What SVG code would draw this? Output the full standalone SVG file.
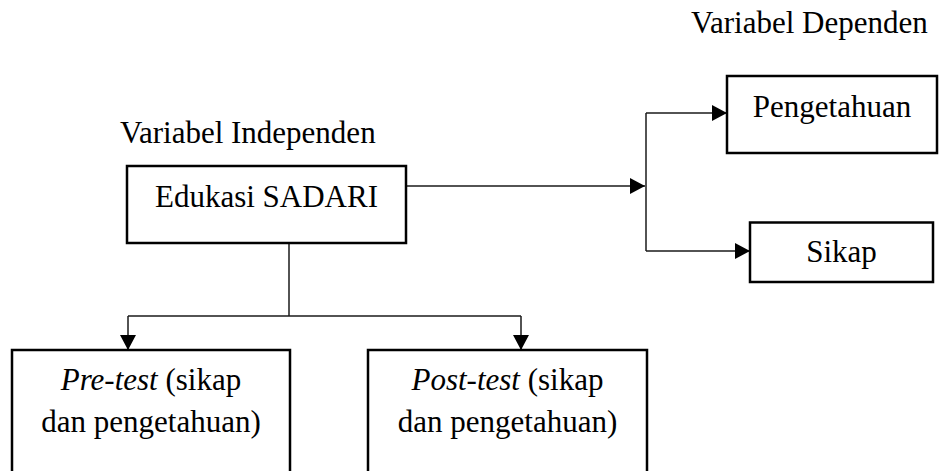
<svg xmlns="http://www.w3.org/2000/svg" width="940" height="471" viewBox="0 0 940 471">
<style>
  .box { fill: #fff; stroke: #000; stroke-width: 2.5; }
  .lbl { font-family: 'Liberation Serif', 'Times New Roman', Times, 'DejaVu Serif', serif; font-size: 31px; fill: #000; }
  .c { text-anchor: middle; }
  .con { fill: none; stroke: #1a1a1a; stroke-width: 1.5; }
</style>
<defs>
  <marker id="arr" viewBox="0 0 15 16" refX="15" refY="8" markerWidth="15" markerHeight="16" markerUnits="userSpaceOnUse" orient="auto">
    <path d="M0,0 L15,8 L0,16 z" fill="#000"/>
  </marker>
</defs>
<rect width="940" height="471" fill="#fff"/>
<text class="lbl" font-family="Liberation Serif, serif" x="691" y="33">Variabel Dependen</text>
<text class="lbl" font-family="Liberation Serif, serif" x="120" y="143">Variabel Independen</text>
<g id="connectors">
  <path class="con" d="M406,186 H645" marker-end="url(#arr)"/>
  <path class="con" d="M646,113 V251"/>
  <path class="con" d="M646,113 H727" marker-end="url(#arr)"/>
  <path class="con" d="M646,251 H750" marker-end="url(#arr)"/>
  <path class="con" d="M289,243 V316"/>
  <path class="con" d="M128,316 H521"/>
  <path class="con" d="M128,316 V350" marker-end="url(#arr)"/>
  <path class="con" d="M521,316 V350" marker-end="url(#arr)"/>
</g>
<g id="edukasi">
  <rect class="box" x="127" y="166" width="279" height="77"/>
  <text class="lbl c" x="266.5" y="207">Edukasi SADARI</text>
</g>
<g id="pengetahuan">
  <rect class="box" x="727" y="76" width="210" height="77"/>
  <text class="lbl c" x="832" y="117">Pengetahuan</text>
</g>
<g id="sikap">
  <rect class="box" x="750" y="222.5" width="183" height="59.5"/>
  <text class="lbl c" x="841.5" y="262">Sikap</text>
</g>
<g id="pretest">
  <rect class="box" x="12" y="350" width="278" height="140"/>
  <text class="lbl c" x="151" y="390"><tspan font-style="italic">Pre-test</tspan> (sikap</text>
  <text class="lbl c" x="151" y="432">dan pengetahuan)</text>
</g>
<g id="posttest">
  <rect class="box" x="368" y="350" width="279" height="140"/>
  <text class="lbl c" x="507.5" y="390"><tspan font-style="italic">Post-test</tspan> (sikap</text>
  <text class="lbl c" x="507.5" y="432">dan pengetahuan)</text>
</g>
</svg>
